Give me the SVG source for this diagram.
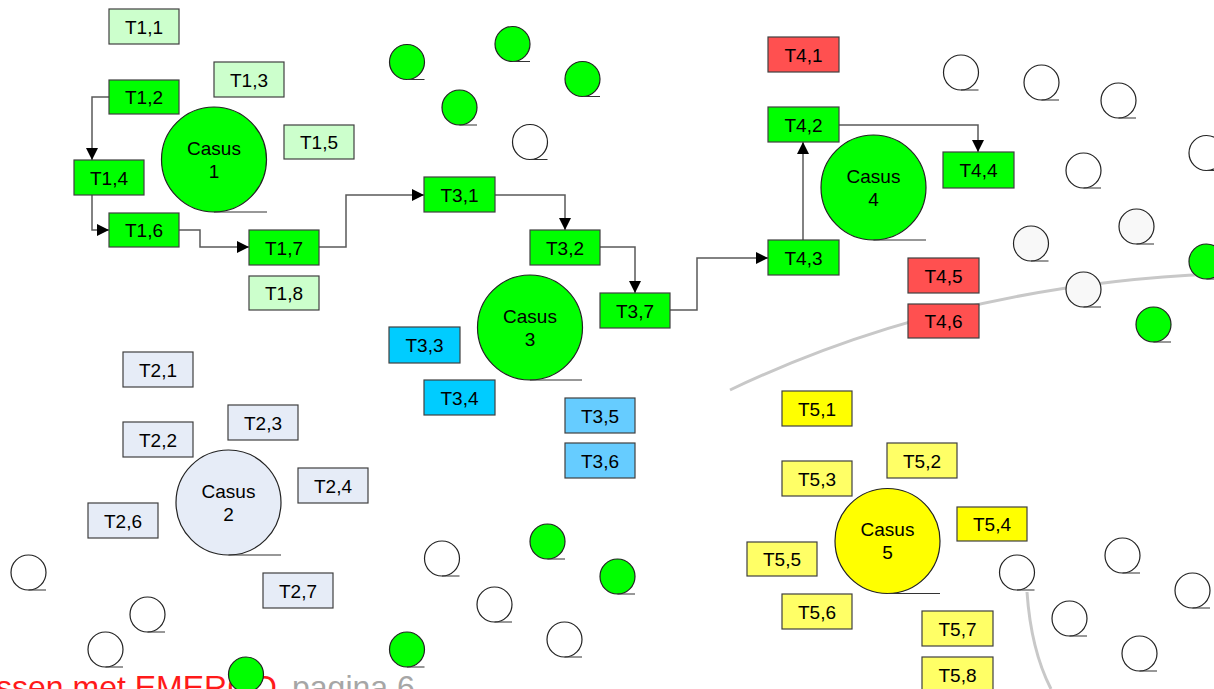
<svg xmlns="http://www.w3.org/2000/svg" width="1214" height="689" viewBox="0 0 1214 689">
<defs>
<style>
text{font-family:"Liberation Sans",Arial,sans-serif;fill:#000}
.lbl{font-size:19px;text-anchor:middle}
.box{stroke:#404040;stroke-width:1.2}
.g{fill:#00FF00}
.lg{fill:#CCFFCC}
.bl{fill:#E6ECF7}
.cy{fill:#00CCFF}
.lb{fill:#66CCFF}
.rd{fill:#FF5050}
.ye{fill:#FFFF00}
.ly{fill:#FFFF66}
.wh{fill:#FFFFFF}
.gr{fill:#F8F8F8}
.circ{stroke:#222;stroke-width:1.2}
.ul{stroke:#333;stroke-width:1.2}
.con{fill:none;stroke:#595959;stroke-width:1.5}
.arc{fill:none;stroke:#C8C8C8;stroke-width:3}
</style>
<marker id="arr" markerUnits="userSpaceOnUse" markerWidth="12" markerHeight="12" refX="12" refY="6" orient="auto">
<path d="M0,0 L12,6 L0,12 z" fill="#000"/>
</marker>
</defs>

<g id="background">
<path class="arc" d="M730,390 Q950,285 1214,274"/>
<path class="arc" d="M1027,592 Q1031,650 1051,689"/>
<text x="-4" y="698" font-size="32" style="fill:#FF1A1A">ssen met EMERGO</text>
<text x="292" y="698" font-size="32" style="fill:#A6A6A6">pagina 6</text>
</g>

<g id="dots">
<g class="circ">
<circle class="g" cx="407" cy="62" r="17.5"/>
<circle class="g" cx="512.5" cy="44" r="17.5"/>
<circle class="g" cx="582.5" cy="79" r="17.5"/>
<circle class="g" cx="459.5" cy="107.5" r="17.5"/>
<circle class="g" cx="1206.5" cy="261.5" r="17.5"/>
<circle class="g" cx="1153.5" cy="324.5" r="17.5"/>
<circle class="g" cx="547.5" cy="541.5" r="17.5"/>
<circle class="g" cx="617.5" cy="576.5" r="17.5"/>
<circle class="g" cx="407" cy="649.5" r="17.5"/>
<circle class="g" cx="246" cy="674.5" r="17.5"/>
<circle class="wh" cx="530" cy="142" r="17.5"/>
<circle class="wh" cx="961" cy="72.5" r="17.5"/>
<circle class="wh" cx="1041.5" cy="82.5" r="17.5"/>
<circle class="wh" cx="1118.5" cy="100.5" r="17.5"/>
<circle class="wh" cx="1206.5" cy="153" r="17.5"/>
<circle class="wh" cx="1083.5" cy="170.5" r="17.5"/>
<circle class="wh" cx="28.5" cy="572.5" r="17.5"/>
<circle class="wh" cx="147.5" cy="614.5" r="17.5"/>
<circle class="wh" cx="105.5" cy="649.5" r="17.5"/>
<circle class="wh" cx="442" cy="558.5" r="17.5"/>
<circle class="wh" cx="494.5" cy="604.5" r="17.5"/>
<circle class="wh" cx="564.5" cy="639.5" r="17.5"/>
<circle class="wh" cx="1017" cy="572.5" r="17.5"/>
<circle class="wh" cx="1122.5" cy="555.5" r="17.5"/>
<circle class="wh" cx="1192.5" cy="590.5" r="17.5"/>
<circle class="wh" cx="1069.5" cy="618.5" r="17.5"/>
<circle class="wh" cx="1139.5" cy="653.5" r="17.5"/>
<circle class="gr" cx="1031" cy="243.5" r="17.5"/>
<circle class="gr" cx="1136.5" cy="226.5" r="17.5"/>
<circle class="gr" cx="1083.5" cy="289.5" r="17.5"/>
</g>
<path class="ul" d="M407,79.5h17.5M512.5,61.5h17.5M582.5,96.5h17.5M459.5,125h17.5M1206.5,279h17.5M1153.5,342h17.5M547.5,559h17.5M617.5,594h17.5M407,667h17.5M246,692h17.5M530,159.5h17.5M961,90h17.5M1041.5,100h17.5M1118.5,118h17.5M1206.5,170.5h17.5M1083.5,188h17.5M28.5,590h17.5M147.5,632h17.5M105.5,667h17.5M442,576h17.5M494.5,622h17.5M564.5,657h17.5M1017,590h17.5M1122.5,573h17.5M1192.5,608h17.5M1069.5,636h17.5M1139.5,671h17.5M1031,261h17.5M1136.5,244h17.5M1083.5,307h17.5"/>
</g>

<g id="connectors">
<path class="con" marker-end="url(#arr)" d="M109,97 H92 V160"/>
<path class="con" marker-end="url(#arr)" d="M92,195 V230 H109"/>
<path class="con" marker-end="url(#arr)" d="M179,230 H200 V247 H249"/>
<path class="con" marker-end="url(#arr)" d="M319,247 H346 V195 H424"/>
<path class="con" marker-end="url(#arr)" d="M495,195 H565 V230"/>
<path class="con" marker-end="url(#arr)" d="M600,247 H635 V293"/>
<path class="con" marker-end="url(#arr)" d="M670,310 H697 V258 H768"/>
<path class="con" marker-end="url(#arr)" d="M803,240 V142"/>
<path class="con" marker-end="url(#arr)" d="M839,125 H978 V152"/>
</g>

<!-- Casus circles -->
<g id="casus1"><circle class="g circ" cx="214" cy="159.5" r="52.5"/><line class="ul" x1="214" y1="212" x2="267" y2="212"/><text class="lbl" x="214" y="154.5">Casus</text><text class="lbl" x="214" y="177.5">1</text></g>
<g id="casus2"><circle class="bl circ" cx="228.5" cy="502.5" r="52.5"/><line class="ul" x1="228.5" y1="555" x2="281" y2="555"/><text class="lbl" x="228.5" y="497.5">Casus</text><text class="lbl" x="228.5" y="520.5">2</text></g>
<g id="casus3"><circle class="g circ" cx="530" cy="327.5" r="52.5"/><line class="ul" x1="530" y1="380" x2="582" y2="380"/><text class="lbl" x="530" y="322.5">Casus</text><text class="lbl" x="530" y="345.5">3</text></g>
<g id="casus4"><circle class="g circ" cx="873.5" cy="187.5" r="52.5"/><line class="ul" x1="873.5" y1="240" x2="926" y2="240"/><text class="lbl" x="873.5" y="182.5">Casus</text><text class="lbl" x="873.5" y="205.5">4</text></g>
<g id="casus5"><circle class="ye circ" cx="887.5" cy="541" r="52.5"/><line class="ul" x1="887.5" y1="593.5" x2="940" y2="593.5"/><text class="lbl" x="887.5" y="536">Casus</text><text class="lbl" x="887.5" y="559">5</text></g>

<!-- Tasks -->
<g id="t1-1"><rect class="box lg" x="109" y="9" width="70" height="35"/><text class="lbl" x="144" y="33.5">T1,1</text></g>
<g id="t1-2"><rect class="box g" x="109" y="80" width="70" height="34"/><text class="lbl" x="144" y="104">T1,2</text></g>
<g id="t1-3"><rect class="box lg" x="214" y="62" width="70" height="35"/><text class="lbl" x="249" y="86.5">T1,3</text></g>
<g id="t1-4"><rect class="box g" x="74" y="160" width="70" height="35"/><text class="lbl" x="109" y="184.5">T1,4</text></g>
<g id="t1-5"><rect class="box lg" x="284" y="125" width="70" height="34"/><text class="lbl" x="319" y="149">T1,5</text></g>
<g id="t1-6"><rect class="box g" x="109" y="213" width="70" height="34"/><text class="lbl" x="144" y="237">T1,6</text></g>
<g id="t1-7"><rect class="box g" x="249" y="230" width="70" height="35"/><text class="lbl" x="284" y="254.5">T1,7</text></g>
<g id="t1-8"><rect class="box lg" x="249" y="276" width="70" height="34"/><text class="lbl" x="284" y="300">T1,8</text></g>

<g id="t2-1"><rect class="box bl" x="123" y="352" width="70" height="35"/><text class="lbl" x="158" y="376.5">T2,1</text></g>
<g id="t2-2"><rect class="box bl" x="123" y="422" width="70" height="35"/><text class="lbl" x="158" y="446.5">T2,2</text></g>
<g id="t2-3"><rect class="box bl" x="228" y="405" width="70" height="35"/><text class="lbl" x="263" y="429.5">T2,3</text></g>
<g id="t2-4"><rect class="box bl" x="298" y="468" width="70" height="35"/><text class="lbl" x="333" y="492.5">T2,4</text></g>
<g id="t2-6"><rect class="box bl" x="88" y="503" width="70" height="35"/><text class="lbl" x="123" y="527.5">T2,6</text></g>
<g id="t2-7"><rect class="box bl" x="263" y="573" width="70" height="35"/><text class="lbl" x="298" y="597.5">T2,7</text></g>

<g id="t3-1"><rect class="box g" x="424" y="177" width="71" height="35"/><text class="lbl" x="459.5" y="201.5">T3,1</text></g>
<g id="t3-2"><rect class="box g" x="530" y="230" width="70" height="35"/><text class="lbl" x="565" y="254.5">T3,2</text></g>
<g id="t3-3"><rect class="box cy" x="389" y="327" width="71" height="36"/><text class="lbl" x="424.5" y="352">T3,3</text></g>
<g id="t3-4"><rect class="box cy" x="424" y="380" width="71" height="35"/><text class="lbl" x="459.5" y="404.5">T3,4</text></g>
<g id="t3-5"><rect class="box lb" x="565" y="398" width="70" height="35"/><text class="lbl" x="600" y="422.5">T3,5</text></g>
<g id="t3-6"><rect class="box lb" x="565" y="443" width="70" height="35"/><text class="lbl" x="600" y="467.5">T3,6</text></g>
<g id="t3-7"><rect class="box g" x="600" y="293" width="70" height="35"/><text class="lbl" x="635" y="317.5">T3,7</text></g>

<g id="t4-1"><rect class="box rd" x="768" y="37" width="71" height="35"/><text class="lbl" x="803.5" y="61.5">T4,1</text></g>
<g id="t4-2"><rect class="box g" x="768" y="107" width="71" height="35"/><text class="lbl" x="803.5" y="131.5">T4,2</text></g>
<g id="t4-3"><rect class="box g" x="768" y="240" width="71" height="35"/><text class="lbl" x="803.5" y="264.5">T4,3</text></g>
<g id="t4-4"><rect class="box g" x="943" y="152" width="71" height="36"/><text class="lbl" x="978.5" y="177">T4,4</text></g>
<g id="t4-5"><rect class="box rd" x="908" y="258" width="71" height="35"/><text class="lbl" x="943.5" y="282.5">T4,5</text></g>
<g id="t4-6"><rect class="box rd" x="908" y="304" width="71" height="34"/><text class="lbl" x="943.5" y="328">T4,6</text></g>

<g id="t5-1"><rect class="box ye" x="782" y="391" width="70" height="35"/><text class="lbl" x="817" y="415.5">T5,1</text></g>
<g id="t5-2"><rect class="box ly" x="887" y="443" width="70" height="35"/><text class="lbl" x="922" y="467.5">T5,2</text></g>
<g id="t5-3"><rect class="box ly" x="782" y="461" width="70" height="35"/><text class="lbl" x="817" y="485.5">T5,3</text></g>
<g id="t5-4"><rect class="box ye" x="957" y="507" width="70" height="34"/><text class="lbl" x="992" y="531">T5,4</text></g>
<g id="t5-5"><rect class="box ly" x="747" y="542" width="70" height="34"/><text class="lbl" x="782" y="566">T5,5</text></g>
<g id="t5-6"><rect class="box ly" x="782" y="594" width="70" height="35"/><text class="lbl" x="817" y="618.5">T5,6</text></g>
<g id="t5-7"><rect class="box ly" x="922" y="611" width="71" height="35"/><text class="lbl" x="957.5" y="635.5">T5,7</text></g>
<g id="t5-8"><rect class="box ly" x="922" y="657" width="71" height="35"/><text class="lbl" x="957.5" y="681.5">T5,8</text></g>
</svg>
